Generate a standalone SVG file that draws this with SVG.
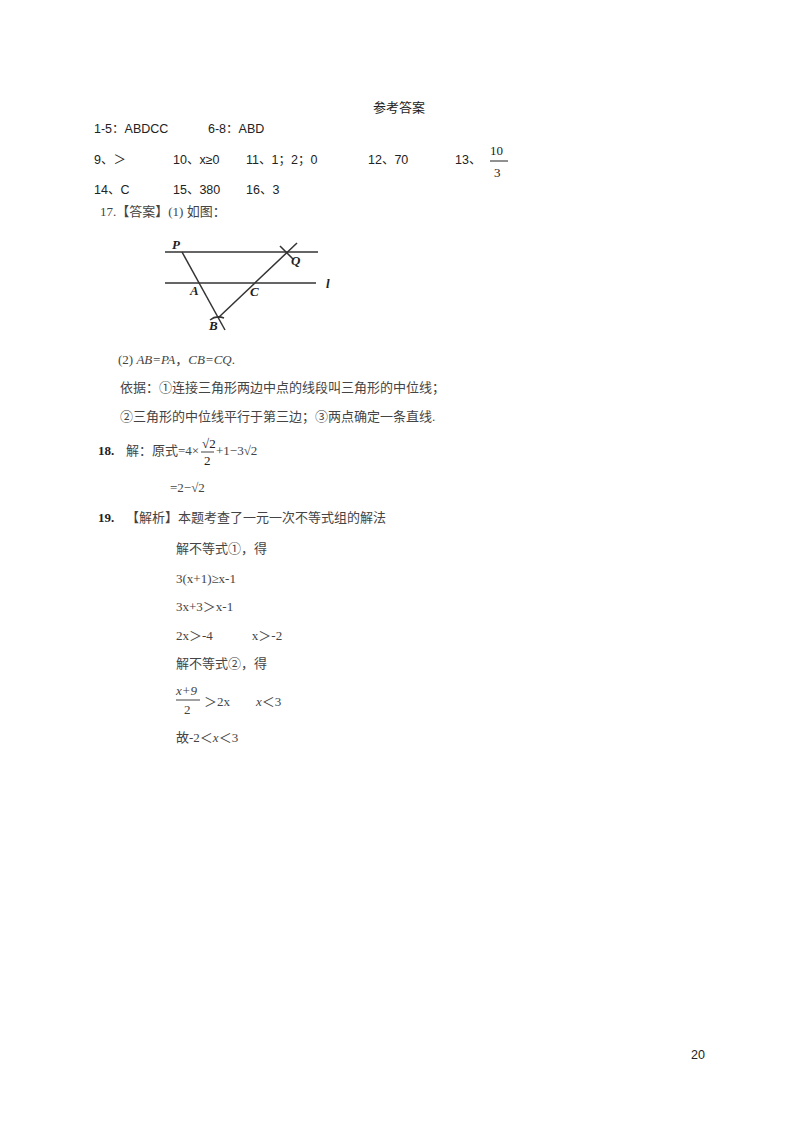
<svg xmlns="http://www.w3.org/2000/svg" width="800" height="1132" viewBox="0 0 800 1132">
<style>
text{font-family:"Liberation Serif","Noto Sans CJK SC",serif;font-size:13px;fill:#222}
.s{font-family:"Liberation Sans","Noto Sans CJK SC",sans-serif;font-size:12.5px}
.c{font-size:13px;fill:#444}
.i{font-style:italic;font-weight:bold}
.l{stroke:#333;stroke-width:1.5;fill:none}
</style>
<rect width="800" height="1132" fill="#fff"/>
<text x="373" y="112" font-size="14">参考答案</text>
<text x="94" y="133" class="s">1-5：ABDCC</text><text x="208" y="133" class="s">6-8：ABD</text>
<text x="94" y="164" class="s">9、＞</text>
<text x="173" y="164" class="s">10、x≥0</text>
<text x="246" y="164" class="s">11、1；2；0</text>
<text x="368" y="164" class="s">12、70</text>
<text x="455" y="164" class="s">13、</text>
<text x="490" y="155" font-size="15">10</text>
<line x1="490" y1="161" x2="508" y2="161" stroke="#222"/>
<text x="494" y="177" font-size="15">3</text>
<text x="94" y="194" class="s">14、C</text>
<text x="173" y="194" class="s">15、380</text>
<text x="246" y="194" class="s">16、3</text>
<text x="100" y="216" class="c">17.【答案】(1) 如图：</text>
<g class="l">
<line x1="165" y1="252" x2="318" y2="252"/>
<line x1="165" y1="283" x2="316" y2="283"/>
<line x1="182" y1="252" x2="225" y2="330"/>
<line x1="218" y1="318" x2="297" y2="243"/>
<path d="M280 246 L293 259" /><path d="M210 320 Q216 315 224 318"/>
</g>
<text x="172" y="249" class="i">P</text>
<text x="291" y="265" class="i">Q</text>
<text x="190" y="295" class="i">A</text>
<text x="250" y="296" class="i">C</text>
<text x="209" y="330" class="i">B</text>
<text x="326" y="288" class="i">l</text>
<text x="118" y="364" class="c">(2) <tspan font-style="italic">AB=PA</tspan>，<tspan font-style="italic">CB=CQ</tspan>.</text>
<text x="120" y="392" class="c">依据：①连接三角形两边中点的线段叫三角形的中位线；</text>
<text x="120" y="421" class="c">②三角形的中位线平行于第三边；③两点确定一条直线.</text>
<text x="98" y="455" font-weight="bold">18.</text>
<text x="126" y="455" class="c">解：原式=4×</text>
<text x="202" y="448" font-size="11">√2</text>
<line x1="201" y1="452" x2="214" y2="452" stroke="#444"/>
<text x="204" y="465" font-size="11">2</text>
<text x="216" y="455" class="c">+1−3√2</text>
<text x="170" y="492" class="c">=2−√2</text>
<text x="98" y="522" font-weight="bold">19.</text>
<text x="126" y="522" class="c">【解析】本题考查了一元一次不等式组的解法</text>
<text x="176" y="553" class="c">解不等式①，得</text>
<text x="176" y="583" class="c">3(x+1)≥x-1</text>
<text x="176" y="611" class="c">3x+3＞x-1</text>
<text x="176" y="640" class="c">2x＞-4　　　x＞-2</text>
<text x="176" y="668" class="c">解不等式②，得</text>
<text x="176" y="695" class="c" font-style="italic">x+9</text>
<line x1="176" y1="700" x2="200" y2="700" stroke="#444"/>
<text x="184" y="714" class="c">2</text>
<text x="204" y="706" class="c">＞2x　　<tspan font-style="italic">x</tspan>＜3</text>
<text x="176" y="742" class="c">故-2＜<tspan font-style="italic">x</tspan>＜3</text>
<text x="691" y="1059" class="s" font-size="12">20</text>
</svg>
